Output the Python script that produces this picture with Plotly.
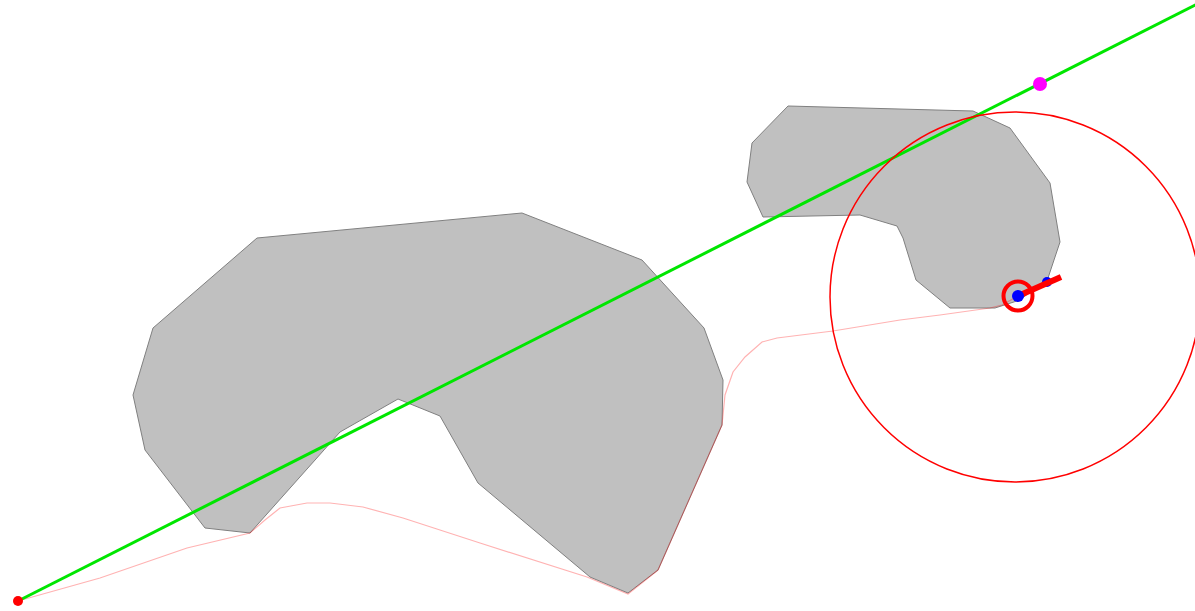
import plotly.graph_objects as go

# Obstacle polygons (pixel-space coordinates, y downward)
big_poly_x = [257, 522, 642, 704, 723, 722, 658, 628, 590, 478, 440, 398, 340, 250, 205, 145, 133, 153, 257]
big_poly_y = [238, 213, 260, 328, 380, 425, 570, 593, 577, 483, 416, 399, 432, 533, 528, 450, 395, 328, 238]

small_poly_x = [788, 973, 1010, 1050, 1060, 1048, 1020, 995, 950, 916, 903, 897, 860, 800, 763, 747, 752, 788]
small_poly_y = [106, 111, 128, 183, 242, 278, 300, 308, 308, 280, 238, 226, 215, 216, 217, 182, 143, 106]

# Planned path (pink)
path_x = [18, 100, 187, 250, 265, 280, 307, 330, 363, 403, 480, 587, 628, 658, 722, 725, 733, 745, 762, 777, 833, 900, 940, 990, 1002, 1018]
path_y = [601, 578, 548, 533, 520, 508, 503, 503, 507, 518, 543, 577, 594, 570, 425, 395, 372, 357, 342, 338, 331, 320, 315, 308, 305, 296]

# Straight line (green)
line_x = [18, 1205]
line_y = [601, 0]

start_pt = (18, 601)
goal_pt = (1040, 84)
robot_pt = (1018, 296)
robot2_pt = (1047, 282)
heading_end = (1061, 277)
sense_center = (1015, 297)
sense_radius = 185

fig = go.Figure()

for px, py in [(big_poly_x, big_poly_y), (small_poly_x, small_poly_y)]:
    fig.add_trace(go.Scatter(x=px, y=py, mode="lines", fill="toself",
                             fillcolor="#c0c0c0", line=dict(color="#808080", width=1),
                             hoverinfo="skip"))

fig.add_trace(go.Scatter(x=path_x, y=path_y, mode="lines",
                         line=dict(color="rgba(255,0,0,0.3)", width=1.2)))

fig.add_trace(go.Scatter(x=line_x, y=line_y, mode="lines",
                         line=dict(color="#00e600", width=3)))

fig.add_trace(go.Scatter(x=[robot2_pt[0]], y=[robot2_pt[1]], mode="markers",
                         marker=dict(color="blue", size=10)))
fig.add_trace(go.Scatter(x=[robot_pt[0], heading_end[0]], y=[robot_pt[1], heading_end[1]],
                         mode="lines", line=dict(color="red", width=6)))
fig.add_trace(go.Scatter(x=[robot_pt[0]], y=[robot_pt[1]], mode="markers",
                         marker=dict(color="blue", size=12)))
fig.add_trace(go.Scatter(x=[robot_pt[0]], y=[robot_pt[1]], mode="markers",
                         marker=dict(symbol="circle-open", color="red", size=29,
                                     line=dict(color="red", width=4))))

fig.add_trace(go.Scatter(x=[start_pt[0]], y=[start_pt[1]], mode="markers",
                         marker=dict(color="red", size=10)))
fig.add_trace(go.Scatter(x=[goal_pt[0]], y=[goal_pt[1]], mode="markers",
                         marker=dict(color="magenta", size=14)))

fig.add_shape(type="circle", xref="x", yref="y",
              x0=sense_center[0] - sense_radius, x1=sense_center[0] + sense_radius,
              y0=sense_center[1] - sense_radius, y1=sense_center[1] + sense_radius,
              line=dict(color="red", width=1.5), layer="above")

fig.update_layout(
    width=1195, height=611,
    margin=dict(l=0, r=0, t=0, b=0),
    paper_bgcolor="white", plot_bgcolor="white",
    showlegend=False,
    xaxis=dict(range=[0, 1195], visible=False, fixedrange=True),
    yaxis=dict(range=[611, 0], visible=False, fixedrange=True),
)

fig.write_html("out.html", config={"displayModeBar": False},
               post_script="document.body.style.margin='0';document.body.style.overflow='hidden';")
